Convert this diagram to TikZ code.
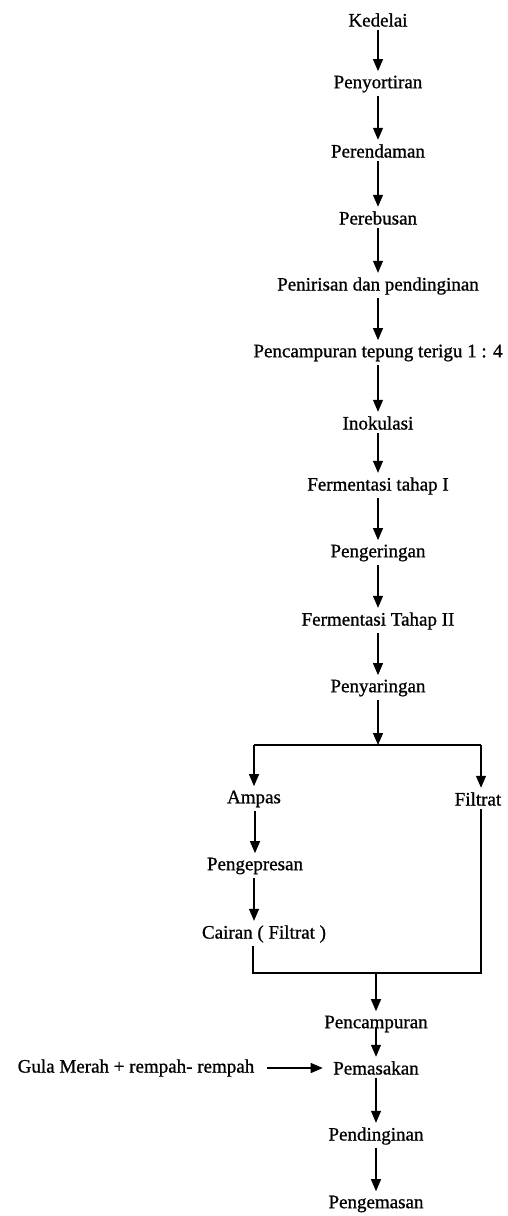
\documentclass[tikz,border=0pt]{standalone}
\usepackage{fontspec}
\setmainfont{Liberation Serif}
\newfontfamily\scanfont{Liberation Serif}[FakeBold=0.9]
\usetikzlibrary{arrows.meta}

\begin{document}
\begin{tikzpicture}[x=1pt, y=-1pt, line width=1.1pt, >={Triangle[length=12pt,width=10pt]},
    proses/.style={font=\scanfont\fontsize{19}{23}\selectfont, inner sep=3pt},
    alur/.style={->, shorten >=1pt}]
    \useasboundingbox (0,0) rectangle (507,1216);
    % main line
    \node[proses] (kedelai) at (378,20) {Kedelai};
    \node[proses] (sortir) at (378,84) {Penyortiran};
    \node[proses] (rendam) at (378,151) {Perendaman};
    \node[proses] (rebus) at (378,218) {Perebusan};
    \node[proses] (tiris) at (378,286) {Penirisan dan pendinginan};
    \node[proses] (tepung) at (378,353) {Pencampuran tepung terigu 1 : 4};
    \node[proses] (inokulasi) at (378,423) {Inokulasi};
    \node[proses] (ferm1) at (378,486) {Fermentasi tahap I};
    \node[proses] (kering) at (378,553) {Pengeringan};
    \node[proses] (ferm2) at (378,621) {Fermentasi Tahap II};
    \node[proses] (saring) at (378,688) {Penyaringan};
    \foreach \a/\b in {kedelai/sortir, sortir/rendam, rendam/rebus, rebus/tiris,
        tiris/tepung, tepung/inokulasi, inokulasi/ferm1, ferm1/kering,
        kering/ferm2, ferm2/saring}
        \draw[alur] (\a) -- (\b);
    % split
    \coordinate (jn) at (378,745);
    \coordinate (jl) at (254,745);
    \coordinate (jr) at (481,745);
    \node[proses] (ampas) at (254,799) {Ampas};
    \node[proses] (filtrat) at (478,799) {Filtrat};
    \node[proses] (press) at (255,866) {Pengepresan};
    \node[proses] (cairan) at (264,934) {Cairan ( Filtrat )};
    \draw[->] (saring) -- (jn);
    \draw (jl) -- (jr);
    \draw[alur] (jl) -- (ampas);
    \draw[alur] (jr) -- (jr |- filtrat.north);
    \draw[alur] (ampas.south -| press) -- (press);
    \draw[alur] (press.south -| jl) -- (cairan.north -| jl);
    % merge
    \coordinate (ml) at (253,973);
    \coordinate (mr) at (481,973);
    \coordinate (mm) at (376,973);
    \draw (ml |- cairan.south) -- (ml) -- (mr) -- (mr |- filtrat.south);
    \node[proses] (campur) at (376,1024) {Pencampuran};
    \node[proses] (masak) at (376,1068) {Pemasakan};
    \node[proses] (gula) at (136,1068) {Gula Merah + rempah- rempah};
    \node[proses] (dingin) at (376,1136) {Pendinginan};
    \node[proses] (kemas) at (376,1204) {Pengemasan};
    \draw[alur] (mm) -- (campur);
    \draw[alur] ([yshift=-3pt]campur.center) -- (masak);
    \draw[->, shorten <=9pt, shorten >=7pt] (gula) -- (masak);
    \draw[alur] (masak) -- (dingin);
    \draw[alur] (dingin) -- (kemas);
\end{tikzpicture}
\end{document}
